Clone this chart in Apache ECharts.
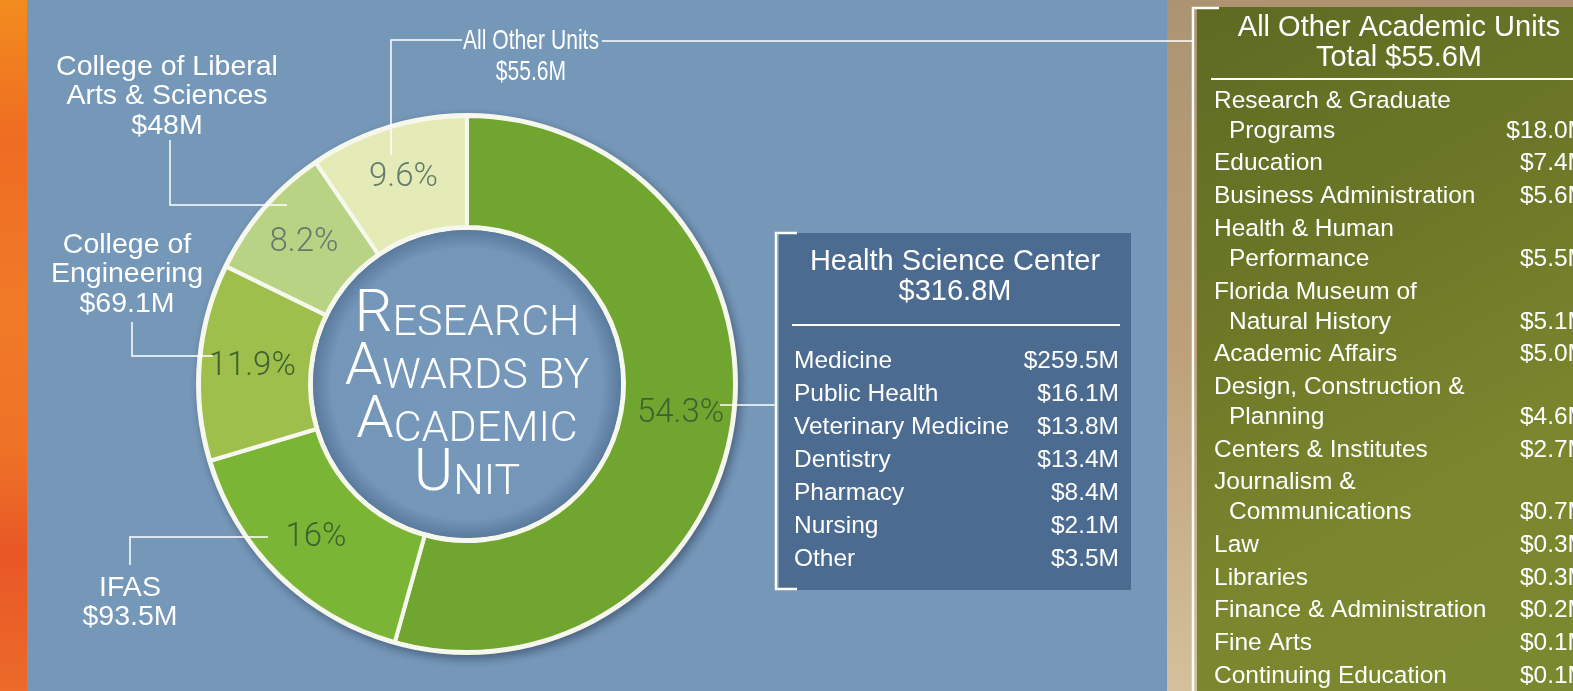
<!DOCTYPE html>
<html>
<head>
<meta charset="utf-8">
<script src="https://cdn.jsdelivr.net/npm/echarts@6/dist/echarts.min.js"></script>
<style>
  html, body { margin: 0; padding: 0; background: #7597b8; }
  #chart { width: 1573px; height: 691px; }
</style>
</head>
<body>
<div id="chart"></div>
<script>
// donut slices, clockwise from 12 o'clock
const unitNames = ["Health Science Center", "IFAS", "College of\nEngineering", "College of Liberal\nArts & Sciences", "All Other Units"];
const unitValues = [316.8, 93.5, 69.1, 48, 55.6];
const pctLabels = ["54.3%", "16%", "11.9%", "8.2%", "9.6%"];
const sliceColors = ["#70a530", "#7bb535", "#9ebf4b", "#b9d384", "#e4ebb6"];

// Health Science Center breakdown
const hscUnits = ["Medicine", "Public Health", "Veterinary Medicine", "Dentistry", "Pharmacy", "Nursing", "Other"];
const hscValues = [259.5, 16.1, 13.8, 13.4, 8.4, 2.1, 3.5];

// All other academic units breakdown
const otherUnits = [
  "Research & Graduate\nPrograms", "Education", "Business Administration", "Health & Human\nPerformance",
  "Florida Museum of\nNatural History", "Academic Affairs", "Design, Construction &\nPlanning",
  "Centers & Institutes", "Journalism &\nCommunications", "Law", "Libraries",
  "Finance & Administration", "Fine Arts", "Continuing Education"
];
const otherValues = [18.0, 7.4, 5.6, 5.5, 5.1, 5.0, 4.6, 2.7, 0.7, 0.3, 0.3, 0.2, 0.1, 0.1];

const SANS = '"Liberation Sans", Arial, sans-serif';
const LIGHT = 'Roboto, "Open Sans", sans-serif';

const money = v => "$" + v + "M";
const money1 = v => "$" + v.toFixed(1) + "M";

const chart = echarts.init(document.getElementById("chart"));

function txt(x, y, text, opts, extra) {
  return Object.assign({
    type: "text", x: x, y: y, z: 20,
    style: Object.assign({
      text: text, fill: "#fff", font: "25px " + SANS,
      textAlign: "left", textVerticalAlign: "middle"
    }, opts || {})
  }, extra || {});
}
function line(points, w) {
  return { type: "polyline", z: 15, shape: { points: points }, style: { stroke: "#fff", lineWidth: w || 1.5, fill: null } };
}

const els = [];

// backgrounds
els.push({
  type: "rect", z: 0, shape: { x: 0, y: 0, width: 27, height: 691 },
  style: { fill: new echarts.graphic.LinearGradient(0, 0, 0, 1, [
    { offset: 0, color: "#f38c1f" }, { offset: 0.2, color: "#ee6c22" }, { offset: 0.45, color: "#f07a28" },
    { offset: 0.65, color: "#ee7226" }, { offset: 0.8, color: "#e85726" }, { offset: 1, color: "#ec6a2a" }
  ]) }
});
els.push({
  type: "rect", z: 0, shape: { x: 1167, y: 0, width: 406, height: 691 },
  style: { fill: new echarts.graphic.LinearGradient(0, 0, 0, 1, [
    { offset: 0, color: "#ac9472" }, { offset: 0.5, color: "#bda07a" }, { offset: 1, color: "#d4c09c" }
  ]) }
});
els.push({
  type: "rect", z: 1, shape: { x: 1197, y: 7, width: 376, height: 684 },
  style: { fill: new echarts.graphic.LinearGradient(0, 0, 1, 1, [
    { offset: 0, color: "#5e6a22" }, { offset: 0.45, color: "#6f7b28" }, { offset: 0.7, color: "#7b872e" }, { offset: 1, color: "#7a8830" }
  ]) }
});
els.push({
  type: "rect", z: 1, shape: { x: 779, y: 233, width: 352, height: 357 },
  style: { fill: "#4b6b91" }
});

// connectors
els.push(line([[391, 155], [391, 40], [462, 40]]));
els.push(line([[602, 41], [1193, 41]]));
els.push(line([[170, 140], [170, 205], [287, 205]]));
els.push(line([[132, 322], [132, 356], [213, 356]]));
els.push(line([[130, 565], [130, 537], [268, 537]]));
els.push(line([[720, 405], [776, 405]]));
els.push(line([[797, 233], [776, 233], [776, 589], [797, 589]], 2.5));
els.push(line([[1219, 8], [1193, 8], [1193, 700]], 2.5));

// slice callouts
const callouts = [
  null,
  { x: 130, y: 573 },
  { x: 127, y: 230 },
  { x: 167, y: 52 },
  { x: 531, y: 26 }
];
callouts.forEach((c, i) => {
  if (!c) return;
  const narrow = i === 4;
  els.push(txt(c.x, c.y, unitNames[i] + "\n" + money(unitValues[i]), {
    font: "28.5px " + SANS,
    textAlign: "center", textVerticalAlign: "top", lineHeight: narrow ? 31 : 29.5
  }, narrow ? { scaleX: 0.74 } : null));
});

// center title in small caps
els.push({
  type: "text", x: 467, y: 293, z: 20,
  style: {
    text: "{b|R}{s|ESEARCH}\n{b|A}{s|WARDS BY}\n{b|A}{s|CADEMIC}\n{b|U}{s|NIT}",
    textAlign: "center", textVerticalAlign: "top", fill: "#fff",
    rich: {
      b: { fontFamily: LIGHT, fontWeight: 300, fontSize: 60, lineHeight: 53, verticalAlign: "bottom", fill: "#fff" },
      s: { fontFamily: LIGHT, fontWeight: 300, fontSize: 43, lineHeight: 42, verticalAlign: "bottom", fill: "#fff" }
    }
  }
});

// HSC box
els.push(txt(955, 247, unitNames[0] + "\n" + money(unitValues[0]), {
  font: "29px " + SANS, textAlign: "center", lineHeight: 30, textVerticalAlign: "top"
}));
els.push({ type: "line", z: 15, shape: { x1: 792, y1: 325, x2: 1120, y2: 325 }, style: { stroke: "#fff", lineWidth: 2 } });
hscUnits.forEach((name, i) => {
  const y = 361 + i * 33;
  els.push(txt(794, y, name, { font: "24.5px " + SANS }));
  els.push(txt(1119, y, money1(hscValues[i]), { font: "24.5px " + SANS, textAlign: "right" }));
});

// all other units panel
els.push(txt(1399, 13, "All Other Academic Units\nTotal " + money(unitValues[4]), {
  font: "29px " + SANS, textAlign: "center", textVerticalAlign: "top", lineHeight: 30
}));
els.push({ type: "line", z: 15, shape: { x1: 1211, y1: 79, x2: 1573, y2: 79 }, style: { stroke: "#fff", lineWidth: 2 } });
let rowY = 101;
otherUnits.forEach((name, i) => {
  const parts = name.split("\n");
  parts.forEach((p, j) => {
    if (j > 0) rowY += 30;
    els.push(txt(j ? 1229 : 1214, rowY, p, { font: "24.5px " + SANS }));
  });
  els.push(txt(1588, rowY, money1(otherValues[i]), { font: "24.5px " + SANS, textAlign: "right" }));
  rowY += 32.7;
});

const pieCenter = [467, 384];

chart.setOption({
  backgroundColor: "#7597b8",
  animation: false,
  graphic: { elements: els },
  series: [
    {
      // shadowed white rim under the ring
      type: "pie", silent: true, z: 2,
      center: pieCenter, radius: [154, 271],
      label: { show: false }, labelLine: { show: false },
      itemStyle: { color: "#f4f6ea", shadowBlur: 10, shadowColor: "rgba(20,30,60,0.45)", shadowOffsetX: 3, shadowOffsetY: 4 },
      data: [{ value: 1 }]
    },
    {
      // inner disc with soft edge shading
      type: "pie", silent: true, z: 2,
      center: pieCenter, radius: [0, 154],
      label: { show: false }, labelLine: { show: false },
      itemStyle: {
        color: new echarts.graphic.RadialGradient(0.5, 0.5, 0.5, [
          { offset: 0, color: "#7699bb" }, { offset: 0.88, color: "#7496b8" }, { offset: 1, color: "#5a7a9e" }
        ])
      },
      data: [{ value: 1 }]
    },
    {
      type: "pie", z: 3,
      center: pieCenter, radius: [157, 268],
      startAngle: 90, clockwise: true,
      itemStyle: { borderColor: "#f6f8ee", borderWidth: 4 },
      label: {
        show: true, position: "inside",
        fontFamily: LIGHT, fontWeight: 300, fontSize: 33,
        formatter: p => pctLabels[p.dataIndex]
      },
      labelLine: { show: false },
      data: unitValues.map((v, i) => ({
        value: v,
        name: unitNames[i],
        itemStyle: { color: sliceColors[i] },
        label: { color: i >= 3 ? "#637a6c" : "#3d6230" }
      }))
    }
  ]
});
</script>
</body>
</html>
